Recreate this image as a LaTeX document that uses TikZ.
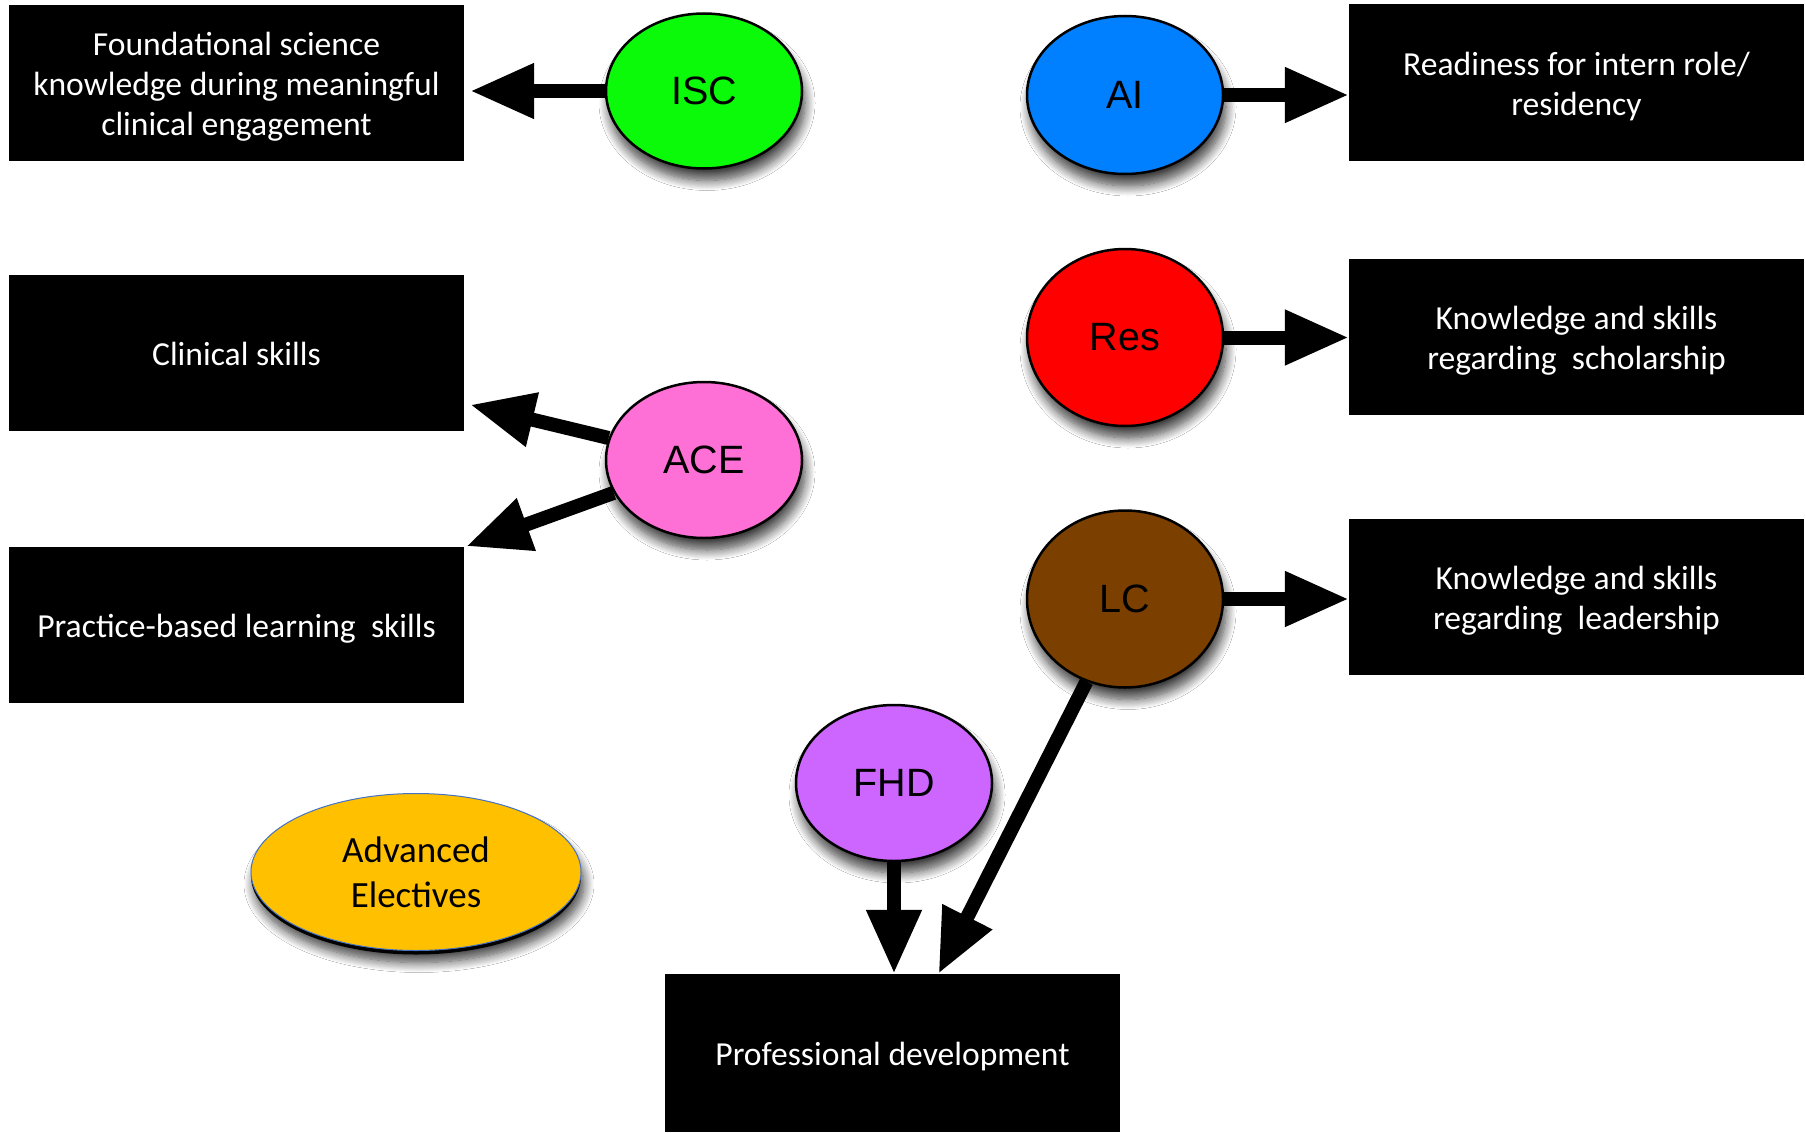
\documentclass[tikz,border=0pt]{standalone}
\usepackage{fontspec}
\setmainfont{Carlito}
\newfontfamily\arialfont{Liberation Sans}
\usetikzlibrary{arrows.meta,shapes.geometric,shadows,shadows.blur}
\definecolor{iscgreen}{RGB}{10,250,10}
\definecolor{aiblue}{RGB}{0,128,255}
\definecolor{resred}{RGB}{255,0,0}
\definecolor{acepink}{RGB}{255,112,214}
\definecolor{lcbrown}{RGB}{123,63,0}
\definecolor{fhdpurple}{RGB}{204,102,255}
\definecolor{advorange}{RGB}{255,192,0}
\definecolor{advblue}{RGB}{68,114,196}
\newcommand{\boxtxt}[1]{\raisebox{-11pt}[0pt][0pt]{\begin{tabular}{@{}c@{}}#1\end{tabular}}}
\begin{document}
\begin{tikzpicture}[x=1pt,y=-1pt,
  outbox/.style={fill=black, text=white, minimum width=455pt, minimum height=156pt,
    inner sep=0pt, font=\fontsize{33.6}{40}\selectfont},
  softshadow/.style={blur shadow={shadow xshift=3pt, shadow yshift=-12pt,
      shadow blur radius=10pt, shadow blur steps=12, shadow opacity=75}},
  bubble/.style={ellipse, draw=black, line width=2.5pt, minimum width=196pt,
    minimum height=156pt, inner sep=0pt, font=\arialfont\fontsize{39.5}{44}\selectfont,
    softshadow},
  conn/.style={line width=14pt, -{Triangle[length=64pt,width=52pt]}}
]
\useasboundingbox (0,0) rectangle (1806,1132);
\fill[white] (0,0) rectangle (1806,1132);

% output boxes
\node[outbox] (found) at (236.5,83) {\boxtxt{Foundational science\\knowledge during meaningful\\clinical engagement}};
\node[outbox] (clin) at (236.5,352.5) {\boxtxt{Clinical skills}};
\node[outbox] (prac) at (236.5,624.5) {\boxtxt{Practice-based learning\ \ skills}};
\node[outbox] (ready) at (1576.5,82.5) {\boxtxt{Readiness for intern role/\\residency}};
\node[outbox] (schol) at (1576.5,336.5) {\boxtxt{Knowledge and skills\\regarding\ \ scholarship}};
\node[outbox] (lead) at (1576.5,596.5) {\boxtxt{Knowledge and skills\\regarding\ \ leadership}};
\node[outbox, minimum height=158pt] (prof) at (892.5,1053) {\boxtxt{Professional development}};

% bubbles
\node[bubble, fill=iscgreen, minimum height=155pt] (isc) at (704,91) {ISC};
\node[bubble, fill=aiblue, minimum height=158pt] (ai) at (1125,95) {AI};
\node[bubble, fill=resred, minimum height=177pt] (res) at (1125,337.5) {Res};
\node[bubble, fill=acepink] (ace) at (704,460) {ACE};
\node[bubble, fill=lcbrown, minimum height=177pt] (lc) at (1125,599) {LC};
\node[bubble, fill=fhdpurple] (fhd) at (894,783) {FHD};
\node[ellipse, fill=advorange, draw=advblue, line width=1pt, minimum width=330pt,
  minimum height=157pt, inner sep=0pt, align=center,
  font=\fontsize{37}{45}\selectfont, softshadow,
  drop shadow={shadow xshift=0pt, shadow yshift=-4pt, fill=black, opacity=1}]
  (adv) at (416,872) {Advanced\\Electives};

% connectors
\draw[conn, shorten >=6pt] (isc.west) -- (isc.west -| found.east);
\draw[conn] (ai.east) -- (ai.east -| ready.west);
\draw[conn] (res.east) -- (res.east -| schol.west);
\draw[conn] (lc.east) -- (lc.east -| lead.west);
\draw[conn] (ace.167) -- ([xshift=6pt,yshift=26pt]clin.south east);
\draw[conn] (ace.200) -- ([xshift=2pt]prac.north east);
\draw[conn] (fhd.south) -- (fhd.south |- prof.north);
\draw[conn] (lc.245) -- ([xshift=46pt]prof.north);
\end{tikzpicture}
\end{document}
